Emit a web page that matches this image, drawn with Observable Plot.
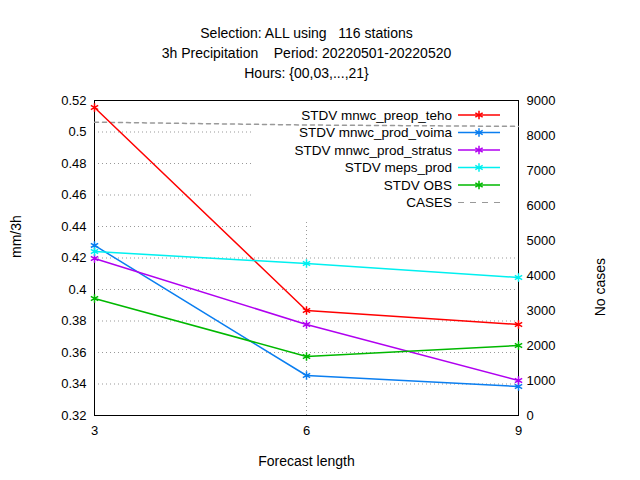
<!DOCTYPE html>
<html><head><meta charset="utf-8">
<script src="https://cdn.jsdelivr.net/npm/d3@7"></script>
<script src="https://cdn.jsdelivr.net/npm/@observablehq/plot@0.6"></script>
<style>body{margin:0;background:#fff}</style>
</head><body><div id="c"></div>
<script>
const leadTimes = [3, 6, 9];
const seriesNames = ["STDV mnwc_preop_teho","STDV mnwc_prod_voima","STDV mnwc_prod_stratus","STDV meps_prod","STDV OBS"];
const seriesColors = ["#ff0000","#0a7ef0","#b000f0","#00f0f0","#00b800"];
const teho = [0.5156, 0.3867, 0.3778];
const voima = [0.4280, 0.3454, 0.3384];
const stratus = [0.4197, 0.3778, 0.3422];
const meps = [0.4241, 0.4165, 0.4076];
const obs = [0.3943, 0.3575, 0.3644];
const cases = [8380, 8300, 8260];
const rightTicks = [0,1000,2000,3000,4000,5000,6000,7000,8000,9000];
const leftTicks = [0.32,0.34,0.36,0.38,0.4,0.42,0.44,0.46,0.48,0.5,0.52];

const toY = c => 0.32 + c / 9000 * 0.2;
const all = [teho, voima, stratus, meps, obs];
const rows = [];
all.forEach((s, i) => s.forEach((v, j) => rows.push({x: leadTimes[j], y: v, s: seriesNames[i]})));
const caseRows = cases.map((c, j) => ({x: leadTimes[j], y: toY(c)}));
const gridLow = leftTicks.slice(1, 6);
const gridHigh = leftTicks.slice(6, -1);

const font = "Liberation Sans, Arial, sans-serif";
const grid = {stroke: "#999", strokeOpacity: 1, strokeDasharray: "1,3"};
const plot = Plot.plot({
  width: 640, height: 480,
  marginLeft: 94, marginRight: 122, marginTop: 100, marginBottom: 65,
  style: {fontFamily: font, fontSize: "13px", color: "#000", background: "#fff"},
  x: {domain: [3, 9]},
  y: {domain: [0.32, 0.52]},
  color: {domain: seriesNames, range: seriesColors},
  marks: [
    Plot.ruleY(gridLow, grid),
    Plot.ruleY(gridHigh, {...grid, x1: 3, x2: 5.25}),
    Plot.ruleX([6], {...grid, y1: 0.32, y2: 0.4425}),
    Plot.frame({stroke: "#000"}),
    Plot.axisX(leadTimes, {tickSize: 0, tickPadding: 10, label: null, fontSize: 13}),
    Plot.axisY(leftTicks, {tickSize: 0, tickPadding: 8, label: null, tickFormat: d => String(+d.toFixed(2)), fontSize: 13}),
    Plot.axisY(rightTicks.map(toY), {anchor: "right", tickSize: 0, tickPadding: 8, label: null, tickFormat: v => String(Math.round((v - 0.32) / 0.2 * 9000)), fontSize: 13}),
    Plot.line(caseRows, {x: "x", y: "y", stroke: "#999", strokeDasharray: "4,4"}),
    Plot.line(rows, {x: "x", y: "y", z: "s", stroke: "s", strokeWidth: 1.5}),
    Plot.dot(rows, {x: "x", y: "y", stroke: "s", symbol: "asterisk", r: 4, strokeWidth: 1.5}),
    Plot.text(["Selection: ALL using   116 stations"], {frameAnchor: "top", dy: -72, fontSize: 14}),
    Plot.text(["3h Precipitation    Period: 20220501-20220520"], {frameAnchor: "top", dy: -52, fontSize: 14}),
    Plot.text(["Hours: {00,03,...,21}"], {frameAnchor: "top", dy: -32, fontSize: 14}),
    Plot.text(["Forecast length"], {frameAnchor: "bottom", dy: 50, fontSize: 14}),
    Plot.text(["mm/3h"], {frameAnchor: "left", dx: -78, rotate: -90, fontSize: 14}),
    Plot.text(["No cases"], {frameAnchor: "right", dx: 82, rotate: -90, fontSize: 14})
  ]
});
document.getElementById("c").appendChild(plot);

// legend
const svg = d3.select(plot);
const labels = seriesNames.concat(["CASES"]);
const cols = seriesColors.concat(["#999"]);
const g = svg.append("g");
labels.forEach((l, i) => {
  const y = 115 + i * 17.5;
  g.append("text").attr("x", 452).attr("y", y).attr("dy", "0.35em").attr("text-anchor", "end")
    .attr("font-family", font).attr("font-size", 13.5).text(l);
  g.append("line").attr("x1", 458).attr("x2", 500).attr("y1", y).attr("y2", y)
    .attr("stroke", cols[i]).attr("stroke-width", i < 5 ? 1.5 : 1).attr("stroke-dasharray", i < 5 ? null : "6,6");
  if (i < 5) {
    const sym = d3.symbol(d3.symbolAsterisk, 50)();
    g.append("path").attr("d", sym).attr("transform", `translate(479,${y})`).attr("stroke", cols[i]).attr("stroke-width", 1.5).attr("fill", "none");
  }
});
</script></body></html>
